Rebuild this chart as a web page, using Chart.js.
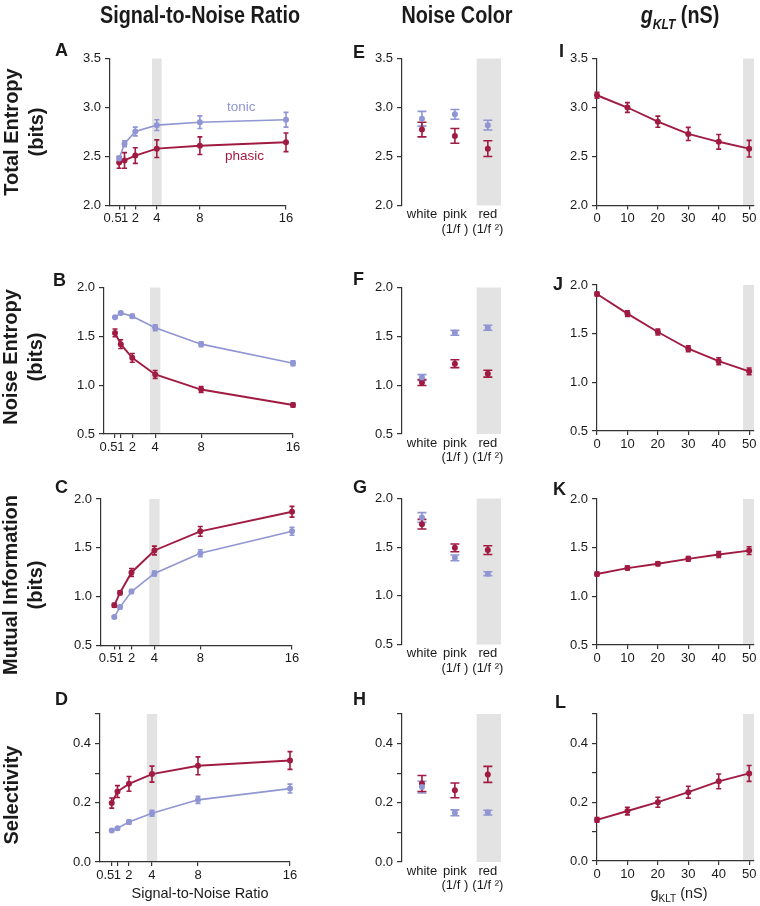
<!DOCTYPE html>
<html><head><meta charset="utf-8">
<script src="https://cdn.jsdelivr.net/npm/chart.js@4.4.1/dist/chart.umd.min.js"></script>
<style>
body{margin:0;background:#fff;width:760px;height:906px;position:relative;overflow:hidden;font-family:'Liberation Sans',Arial,Helvetica,sans-serif;color:#1a1a1a;}
canvas{position:absolute;left:0;top:0;}
.t{position:absolute;white-space:nowrap;line-height:1;}
.col{font-weight:bold;font-size:23px;transform:translateX(-50%) scaleX(0.86);transform-origin:center;}
.row{font-weight:bold;font-size:20px;line-height:25px;text-align:center;transform:translate(-50%,-50%) rotate(-90deg);}
.let{font-weight:bold;font-size:18px;}
.ax{font-size:14.5px;transform:translateX(-50%);}
</style></head><body>
<script>
// ---------- categories / ticks ----------
const snrLevels = [0.5, 1, 2, 4, 8, 16];
const snrTickLabels = ['0.5', '1', '2', '4', '8', '16'];
const noiseColorPositions = [1, 2, 3];
const noiseColorLabels = [['white'], ['pink', '(1/f )'], ['red', '(1/f \u00B2)']];
const gkltLevels = [0, 10, 20, 30, 40, 50];
const gkltTickLabels = ['0', '10', '20', '30', '40', '50'];
const entropyYTicks = [2.0, 2.5, 3.0, 3.5];
const entropyYLabels = ['2.0', '2.5', '3.0', '3.5'];
const bitsYTicks = [0.5, 1.0, 1.5, 2.0];
const bitsYLabels = ['0.5', '1.0', '1.5', '2.0'];
const selectivityYTicks = [0.0, 0.1, 0.2, 0.3, 0.4, 0.5];
const selectivityYLabels = ['0.0', '', '0.2', '', '0.4', ''];
const snrHighlight = [3.55, 4.45];
const noiseColorHighlight = [2.66, 3.4];
const gkltHighlight = [48, 51.6];

// ---------- Total entropy ----------
const totalEntropySnrTonic = [2.48, 2.63, 2.755, 2.82, 2.85, 2.875];
const totalEntropySnrTonicErr = [0.02, 0.03, 0.045, 0.055, 0.065, 0.075];
const totalEntropySnrPhasic = [2.44, 2.46, 2.51, 2.58, 2.61, 2.645];
const totalEntropySnrPhasicErr = [0.06, 0.08, 0.08, 0.09, 0.09, 0.095];
const totalEntropyColorTonic = [2.885, 2.93, 2.82];
const totalEntropyColorTonicErr = [0.075, 0.05, 0.05];
const totalEntropyColorPhasic = [2.775, 2.71, 2.58];
const totalEntropyColorPhasicErr = [0.075, 0.075, 0.08];
const totalEntropyGklt = [3.125, 3.0, 2.855, 2.73, 2.65, 2.58];
const totalEntropyGkltErr = [0.03, 0.05, 0.057, 0.067, 0.075, 0.085];
// ---------- Noise entropy ----------
const noiseEntropySnrTonic = [1.695, 1.74, 1.705, 1.587, 1.42, 1.224];
const noiseEntropySnrTonicErr = [0.01, 0.015, 0.02, 0.03, 0.025, 0.025];
const noiseEntropySnrPhasic = [1.535, 1.42, 1.28, 1.11, 0.955, 0.797];
const noiseEntropySnrPhasicErr = [0.04, 0.045, 0.045, 0.04, 0.03, 0.02];
const noiseEntropyColorTonic = [1.078, 1.536, 1.588];
const noiseEntropyColorTonicErr = [0.03, 0.025, 0.025];
const noiseEntropyColorPhasic = [1.027, 1.22, 1.117];
const noiseEntropyColorPhasicErr = [0.03, 0.04, 0.035];
const noiseEntropyGklt = [1.907, 1.706, 1.517, 1.345, 1.217, 1.113];
const noiseEntropyGkltErr = [0.02, 0.03, 0.03, 0.03, 0.035, 0.035];
// ---------- Mutual information ----------
const mutualInfoSnrTonic = [0.793, 0.893, 1.052, 1.238, 1.445, 1.669];
const mutualInfoSnrTonicErr = [0.01, 0.015, 0.02, 0.025, 0.035, 0.04];
const mutualInfoSnrPhasic = [0.911, 1.041, 1.248, 1.473, 1.669, 1.869];
const mutualInfoSnrPhasicErr = [0.02, 0.02, 0.04, 0.045, 0.05, 0.055];
const mutualInfoColorTonic = [1.805, 1.39, 1.227];
const mutualInfoColorTonicErr = [0.05, 0.03, 0.02];
const mutualInfoColorPhasic = [1.736, 1.493, 1.47];
const mutualInfoColorPhasicErr = [0.05, 0.04, 0.045];
const mutualInfoGklt = [1.23, 1.29, 1.335, 1.385, 1.43, 1.47];
const mutualInfoGkltErr = [0.02, 0.02, 0.02, 0.025, 0.03, 0.04];
// ---------- Selectivity ----------
const selectivitySnrTonic = [0.106, 0.114, 0.135, 0.165, 0.21, 0.248];
const selectivitySnrTonicErr = [0.004, 0.005, 0.007, 0.01, 0.012, 0.015];
const selectivitySnrPhasic = [0.199, 0.238, 0.264, 0.297, 0.325, 0.343];
const selectivitySnrPhasicErr = [0.017, 0.02, 0.025, 0.027, 0.03, 0.03];
const selectivityColorTonic = [0.253, 0.166, 0.167];
const selectivityColorTonicErr = [0.02, 0.01, 0.008];
const selectivityColorPhasic = [0.265, 0.242, 0.296];
const selectivityColorPhasicErr = [0.027, 0.025, 0.027];
const selectivityGklt = [0.14, 0.17, 0.2, 0.234, 0.271, 0.298];
const selectivityGkltErr = [0.008, 0.013, 0.017, 0.02, 0.025, 0.027];

// ---------- styling ----------
const AX = '#333', TXT = '#1a1a1a', TONIC = '#8f96d3', PHASIC = '#a01b42', BAND = '#e3e3e3';
const FONT = "'Liberation Sans', Arial, Helvetica, sans-serif";
const Y_AXIS_W = 45, X_AXIS_H = 40;

function pts(xs, ys) { return xs.map((x, i) => ({ x: x, y: ys[i] })); }
function lineSeries(xs, ys, errs, color, w) {
  return { data: pts(xs, ys), errors: errs, borderColor: color, backgroundColor: color,
    pointRadius: 3, pointBorderWidth: 0, borderWidth: w, showLine: true, tension: 0, clip: false, capHalf: 2.5 };
}
function dotSeries(xs, ys, errs, color) {
  return { data: pts(xs, ys), errors: errs, borderColor: color, backgroundColor: color,
    pointRadius: 3, pointBorderWidth: 0, showLine: false, clip: false, capHalf: 4.5 };
}

const errorBarPlugin = {
  id: 'errbars',
  beforeDatasetsDraw(chart) {
    const ctx = chart.ctx, xs = chart.scales.x, ys = chart.scales.y;
    chart.data.datasets.forEach(ds => {
      if (!ds.errors) return;
      ctx.save(); ctx.strokeStyle = ds.borderColor; ctx.lineWidth = 1.6;
      ds.data.forEach((p, i) => {
        const e = ds.errors[i], x = xs.getPixelForValue(p.x);
        const y0 = ys.getPixelForValue(p.y - e), y1 = ys.getPixelForValue(p.y + e), c = ds.capHalf;
        ctx.beginPath();
        ctx.moveTo(x, y0); ctx.lineTo(x, y1);
        ctx.moveTo(x - c, y0); ctx.lineTo(x + c, y0);
        ctx.moveTo(x - c, y1); ctx.lineTo(x + c, y1);
        ctx.stroke();
      });
      ctx.restore();
    });
  }
};
function bandPlugin(band) {
  return { id: 'band', beforeDraw(chart) {
    const xs = chart.scales.x, a = chart.chartArea, ctx = chart.ctx;
    const x0 = xs.getPixelForValue(band[0]), x1 = xs.getPixelForValue(band[1]);
    ctx.save(); ctx.fillStyle = BAND; ctx.fillRect(x0, a.top, x1 - x0, a.bottom - a.top); ctx.restore();
  } };
}

function makePanel(p) {
  const c = document.createElement('canvas'); c.width = 760; c.height = 906; document.body.appendChild(c);
  const [l, r, t, b] = p.area;
  const tickFont = { family: FONT, size: 13, lineHeight: 1.1 };
  new Chart(c, {
    type: 'scatter',
    data: { datasets: p.datasets },
    options: {
      responsive: false, animation: false, devicePixelRatio: 1, events: [],
      layout: { padding: { left: l - Y_AXIS_W, right: 760 - r, top: t, bottom: 906 - b - X_AXIS_H } },
      plugins: { legend: { display: false }, tooltip: { enabled: false } },
      scales: {
        x: { type: 'linear', min: p.xMin, max: p.xMax,
          afterBuildTicks: s => { s.ticks = p.xTicks.map(v => ({ value: v })); },
          afterFit: s => { s.height = X_AXIS_H; },
          ticks: { autoSkip: false, maxRotation: 0, minRotation: 0, color: TXT, font: tickFont, padding: p.xPad,
            callback: (v, i) => (p.snr && i === 0) ? p.xLabels[i] + '\u2002\u2002' : p.xLabels[i] },
          grid: p.xLine ? { display: true, drawOnChartArea: false, drawTicks: true, tickLength: 4, color: AX, lineWidth: 1.2 }
                        : { display: false, drawTicks: false },
          border: { display: !!p.xLine, color: AX, width: 1.2 } },
        y: { type: 'linear', min: p.yMin, max: p.yMax,
          afterBuildTicks: s => { s.ticks = p.yTicks.map(v => ({ value: v })); },
          afterFit: s => { s.width = Y_AXIS_W; },
          ticks: { color: TXT, font: tickFont, padding: 4, callback: (v, i) => p.yLabels[i] },
          grid: { display: true, drawOnChartArea: false, drawTicks: true, tickLength: 5, color: AX, lineWidth: 1.2 },
          border: { display: true, color: AX, width: 1.2 } }
      }
    },
    plugins: [bandPlugin(p.band), errorBarPlugin]
  });
}

function snrPanel(area, xMin, yMin, yMax, yTicks, yLabels, tonic, tonicErr, phasic, phasicErr) {
  makePanel({ area, xMin, xMax: 16, yMin, yMax, yTicks, yLabels, xTicks: snrLevels, xLabels: snrTickLabels,
    snr: true, xLine: true, xPad: 2, band: snrHighlight,
    datasets: [lineSeries(snrLevels, tonic, tonicErr, TONIC, 1.6), lineSeries(snrLevels, phasic, phasicErr, PHASIC, 1.9)] });
}
function colorPanel(area, yMin, yMax, yTicks, yLabels, tonic, tonicErr, phasic, phasicErr) {
  makePanel({ area, xMin: 0.394, xMax: 3.4, yMin, yMax, yTicks, yLabels, xTicks: noiseColorPositions, xLabels: noiseColorLabels,
    xLine: false, xPad: 2, band: noiseColorHighlight,
    datasets: [dotSeries(noiseColorPositions, tonic, tonicErr, TONIC), dotSeries(noiseColorPositions, phasic, phasicErr, PHASIC)] });
}
function gkltPanel(area, yMin, yMax, yTicks, yLabels, vals, errs) {
  makePanel({ area, xMin: 0, xMax: 51.6, yMin, yMax, yTicks, yLabels, xTicks: gkltLevels, xLabels: gkltTickLabels,
    xLine: true, xPad: 2, band: gkltHighlight,
    datasets: [lineSeries(gkltLevels, vals, errs, PHASIC, 1.9)] });
}

// Row 1
snrPanel([110, 286, 58.5, 205.5], -0.35, 2.0, 3.5, entropyYTicks, entropyYLabels, totalEntropySnrTonic, totalEntropySnrTonicErr, totalEntropySnrPhasic, totalEntropySnrPhasicErr);
colorPanel([402, 501, 58.5, 205.5], 2.0, 3.5, entropyYTicks, entropyYLabels, totalEntropyColorTonic, totalEntropyColorTonicErr, totalEntropyColorPhasic, totalEntropyColorPhasicErr);
gkltPanel([597, 754, 58.5, 205.5], 2.0, 3.5, entropyYTicks, entropyYLabels, totalEntropyGklt, totalEntropyGkltErr);
// Row 2
snrPanel([104, 293, 287.5, 434], -0.46, 0.5, 2.0, bitsYTicks, bitsYLabels, noiseEntropySnrTonic, noiseEntropySnrTonicErr, noiseEntropySnrPhasic, noiseEntropySnrPhasicErr);
colorPanel([402, 501, 287.5, 434], 0.5, 2.0, bitsYTicks, bitsYLabels, noiseEntropyColorTonic, noiseEntropyColorTonicErr, noiseEntropyColorPhasic, noiseEntropyColorPhasicErr);
gkltPanel([597, 754, 285, 431], 0.5, 2.0, bitsYTicks, bitsYLabels, noiseEntropyGklt, noiseEntropyGkltErr);
// Row 3
snrPanel([101, 292, 499, 645.5], -0.66, 0.5, 2.0, bitsYTicks, bitsYLabels, mutualInfoSnrTonic, mutualInfoSnrTonicErr, mutualInfoSnrPhasic, mutualInfoSnrPhasicErr);
colorPanel([402, 501, 498.5, 644.5], 0.5, 2.0, bitsYTicks, bitsYLabels, mutualInfoColorTonic, mutualInfoColorTonicErr, mutualInfoColorPhasic, mutualInfoColorPhasicErr);
gkltPanel([597, 754, 499, 645], 0.5, 2.0, bitsYTicks, bitsYLabels, mutualInfoGklt, mutualInfoGkltErr);
// Row 4
snrPanel([100, 290, 714, 862], -0.52, 0.0, 0.5, selectivityYTicks, selectivityYLabels, selectivitySnrTonic, selectivitySnrTonicErr, selectivitySnrPhasic, selectivitySnrPhasicErr);
colorPanel([402, 501, 714, 862], 0.0, 0.5, selectivityYTicks, selectivityYLabels, selectivityColorTonic, selectivityColorTonicErr, selectivityColorPhasic, selectivityColorPhasicErr);
gkltPanel([597, 754, 714, 861], 0.0, 0.5, selectivityYTicks, selectivityYLabels, selectivityGklt, selectivityGkltErr);
</script>

<div class="t col" style="left:200px;top:4px;">Signal-to-Noise Ratio</div>
<div class="t col" style="left:457px;top:4px;">Noise Color</div>
<div class="t col" style="left:680px;top:4px;"><i>g<sub style="font-size:14px;">KLT</sub></i> (nS)</div>

<div class="t row" style="left:24px;top:132px;">Total Entropy<br>(bits)</div>
<div class="t row" style="left:23px;top:357px;">Noise Entropy<br>(bits)</div>
<div class="t row" style="left:23px;top:585px;">Mutual Information<br>(bits)</div>
<div class="t row" style="left:11px;top:795px;">Selectivity</div>

<div class="t let" style="left:55px;top:41px;">A</div>
<div class="t let" style="left:53px;top:271px;">B</div>
<div class="t let" style="left:55px;top:478px;">C</div>
<div class="t let" style="left:55px;top:690px;">D</div>
<div class="t let" style="left:353px;top:43px;">E</div>
<div class="t let" style="left:353px;top:270px;">F</div>
<div class="t let" style="left:353px;top:478px;">G</div>
<div class="t let" style="left:353px;top:690px;">H</div>
<div class="t let" style="left:559px;top:42px;">I</div>
<div class="t let" style="left:553px;top:275px;">J</div>
<div class="t let" style="left:553px;top:480px;">K</div>
<div class="t let" style="left:555px;top:693px;">L</div>

<div class="t" style="left:227px;top:100px;font-size:13.5px;color:#8f96d3;">tonic</div>
<div class="t" style="left:225px;top:149px;font-size:13.5px;color:#a01b42;">phasic</div>

<div class="t ax" style="left:200px;top:886px;">Signal-to-Noise Ratio</div>
<div class="t ax" style="left:679px;top:886px;">g<sub style="font-size:10px;">KLT</sub> (nS)</div>
</body></html>
